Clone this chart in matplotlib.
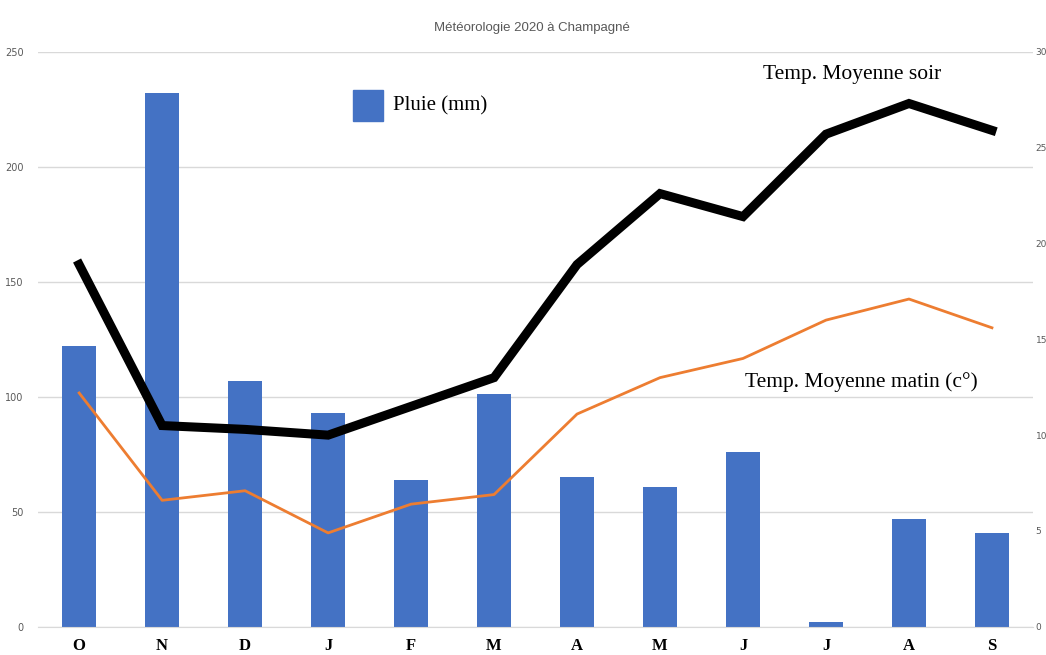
import matplotlib.pyplot as plt
import numpy as np

# Données
mois = ["O", "N", "D", "J", "F", "M", "A", "M", "J", "J", "A", "S"]
pluie = [122, 232, 107, 93, 64, 101, 65, 61, 76, 2, 47, 41]
temp_soir = [18.9, 10.5, 10.3, 10.0, 11.5, 13.0, 18.9, 22.6, 21.4, 25.7, 27.3, 25.9]
temp_matin = [12.2, 6.6, 7.1, 4.9, 6.4, 6.9, 11.1, 13.0, 14.0, 16.0, 17.1, 15.6]

fig = plt.figure(figsize=(10.46, 6.55), dpi=100)
ax = fig.add_axes([0.036, 0.043, 0.952, 0.878])
x = np.arange(len(mois))

ax.bar(x, pluie, width=0.41, color="#4472C4", zorder=2)
ax.set_ylim(0, 250)
ax.set_xlim(-0.5, len(mois) - 0.5)
ax.set_yticks([0, 50, 100, 150, 200, 250])
ax.yaxis.grid(True, color="#D9D9D9", linewidth=1, zorder=0)
ax.set_axisbelow(True)
for s in ["top", "right", "left"]:
    ax.spines[s].set_visible(False)
ax.spines["bottom"].set_color("#D9D9D9")
ax.tick_params(axis="y", length=0, labelsize=7, labelcolor="#595959", pad=10)
ax.tick_params(axis="x", length=0, pad=8)
ax.set_xticks(x)
ax.set_xticklabels(mois, fontfamily="Liberation Serif", fontweight="bold", fontsize=12)

# Axe droit : températures
ax2 = ax.twinx()
ax2.set_ylim(0, 30)
ax2.set_yticks([0, 5, 10, 15, 20, 25, 30])
for s in ["top", "right", "left", "bottom"]:
    ax2.spines[s].set_visible(False)
ax2.tick_params(axis="y", length=0, labelsize=6.5, labelcolor="#595959", pad=1.5)
ax2.plot(x, temp_matin, color="#ED7D31", linewidth=2, zorder=3)
ax2.plot(x, temp_soir, color="black", linewidth=6.5, solid_joinstyle="miter", zorder=4)

fig.text(0.509, 0.958, "Météorologie 2020 à Champagné", ha="center", va="center",
         fontsize=9.5, color="#595959", fontfamily="Liberation Sans")

# Légende manuelle
fig.patches.append(plt.Rectangle((0.337, 0.815), 0.029, 0.048, transform=fig.transFigure,
                                 color="#4472C4"))
fig.text(0.376, 0.839, "Pluie (mm)", ha="left", va="center", fontsize=15,
         fontfamily="Liberation Serif")
fig.text(0.729, 0.886, "Temp. Moyenne soir", ha="left", va="center", fontsize=15.5,
         fontfamily="Liberation Serif", bbox=dict(facecolor="white", edgecolor="none", pad=2))
fig.text(0.712, 0.417, "Temp. Moyenne matin (c°)", ha="left", va="center", fontsize=15.5,
         fontfamily="Liberation Serif", bbox=dict(facecolor="white", edgecolor="none", pad=2))

fig.savefig("out.png", dpi=100)
